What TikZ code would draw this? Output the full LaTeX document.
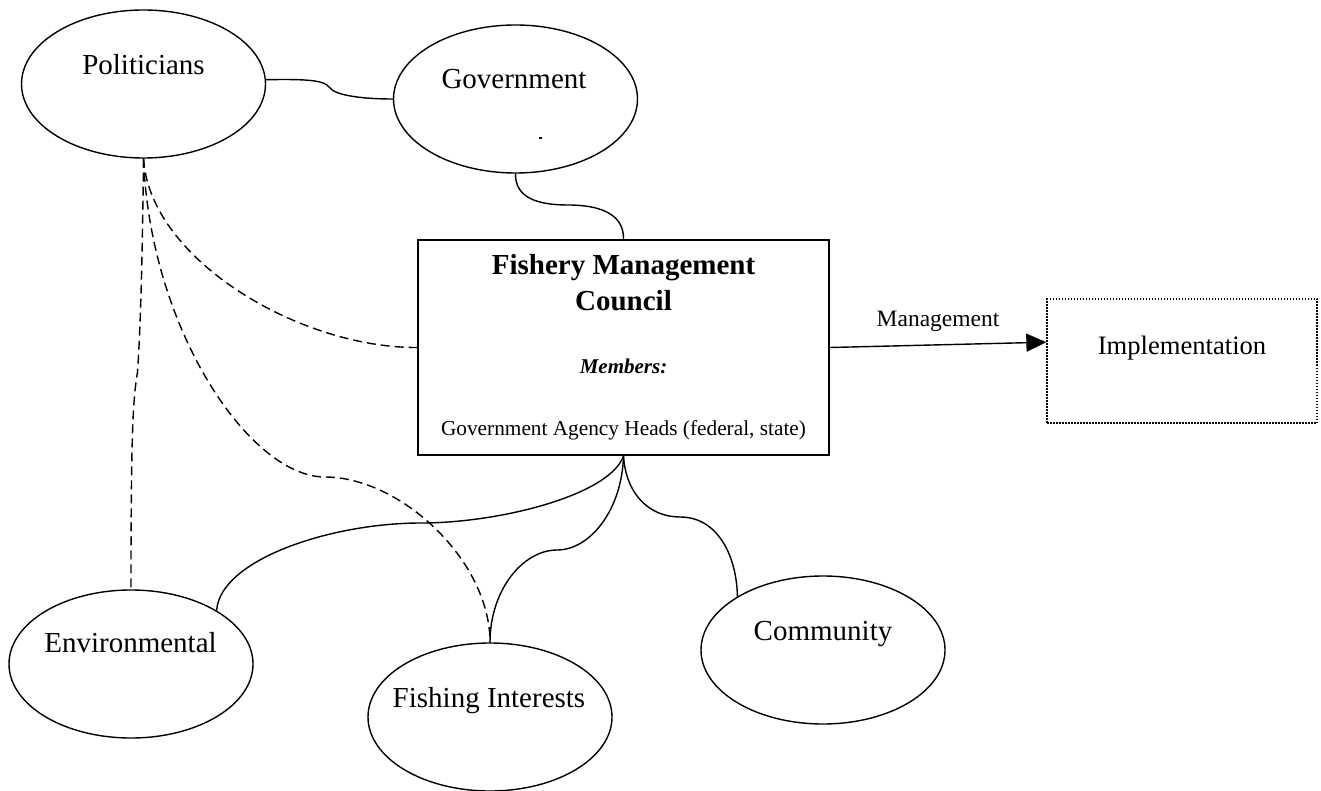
\documentclass[tikz,border=0pt]{standalone}
\usepackage{fontspec}
\setmainfont{Liberation Serif}
\usetikzlibrary{shapes.geometric,arrows.meta,calc}
\begin{document}
\begin{tikzpicture}[x=1pt,y=-1pt,
  oval/.style={draw, ellipse, line width=1.4pt, minimum width=244pt, minimum height=148pt, inner sep=0pt},
  lbl/.style={anchor=base, inner sep=0pt, font=\fontsize{29}{34}\selectfont},
  conn/.style={line width=1.4pt},
  dconn/.style={line width=1.4pt, dash pattern=on 9pt off 5pt}
]
\useasboundingbox (0,0) rectangle (1321,791);
% ellipses
\node[oval] (pol)  at (143.5,84) {};
\node[oval] (gov)  at (515.5,99) {};
\node[oval] (env)  at (131,664) {};
\node[oval] (fish) at (490,717) {};
\node[oval] (com)  at (823,650) {};
% boxes
\node[draw, line width=1.8pt, minimum width=411pt, minimum height=215pt, inner sep=0pt] (box) at (623.5,347.5) {};
\node[draw, line width=1.3pt, dash pattern=on 1.5pt off 1.5pt, minimum width=270pt, minimum height=124pt, inner sep=0pt] (impl) at (1182,361) {};
% labels
\node[lbl] (polt)  at (143.5,74.5) {Politicians};
\node[lbl] (govt)  at (514,88.5) {Government};
\node[lbl] (envt)  at (130.5,652.5) {Environmental};
\node[lbl] (fisht) at (489,707) {Fishing Interests};
\node[lbl] (comt)  at (823,640) {Community};
\node[anchor=base, inner sep=0pt, font=\bfseries\fontsize{29}{34}\selectfont] (t1) at (623.5,275) {Fishery Management};
\node[anchor=base, inner sep=0pt, font=\bfseries\fontsize{29}{34}\selectfont] (t2) at (623.5,310) {Council};
\node[anchor=base, inner sep=0pt, font=\bfseries\itshape\fontsize{21}{25}\selectfont] (mem) at (623.5,373) {Members:};
\node[anchor=base, inner sep=0pt, font=\fontsize{21.3}{25}\selectfont] (heads) at (623.5,435) {Government Agency Heads (federal, state)};
\node[anchor=base, inner sep=0pt, font=\fontsize{23.5}{28}\selectfont] (mgmt) at (938,326) {Management};
\node[anchor=base, inner sep=0pt, font=\fontsize{26.6}{31}\selectfont] (implt) at (1182,354) {Implementation};
% small mark in Government
\fill (539,137.5) rectangle (542,139);
% solid connectors
\draw[conn] (pol.2) .. controls (305,79) and (324,80) .. (329,87) .. controls (334,95) and (360,99) .. (gov.west);
\draw[conn] (gov.south) .. controls (515,198) and (538,205) .. (568,205) .. controls (600,205) and (624,214) .. (box.north);
\draw[conn] (box.south) .. controls (610,495) and (500,523) .. (421,523) .. controls (330,523) and (220,560) .. (env.32);
\draw[conn] (box.south) .. controls (622,510) and (590,550) .. (557,550) .. controls (523,550) and (490,590) .. (fish.north);
\draw[conn] (box.south) .. controls (626,495) and (650,517) .. (680,517) .. controls (720,517) and (737,560) .. (com.148);
% dashed connectors
\draw[dconn] (pol.south) .. controls (150,260) and (300,348) .. (box.west);
\draw[dconn] (pol.south) .. controls (142,300) and (139,350) .. (137.5,372) .. controls (133,400) and (131,430) .. (env.north);
\draw[dconn] (pol.south) .. controls (150,330) and (250,477) .. (325,477) .. controls (400,477) and (490,560) .. (fish.north);
% arrow
\coordinate (arrend) at ($(impl.north west)!0.35!(impl.south west)$);
\draw[conn, -{Triangle[length=20pt,width=18pt]}] (box.east) -- (arrend);
\end{tikzpicture}
\end{document}
